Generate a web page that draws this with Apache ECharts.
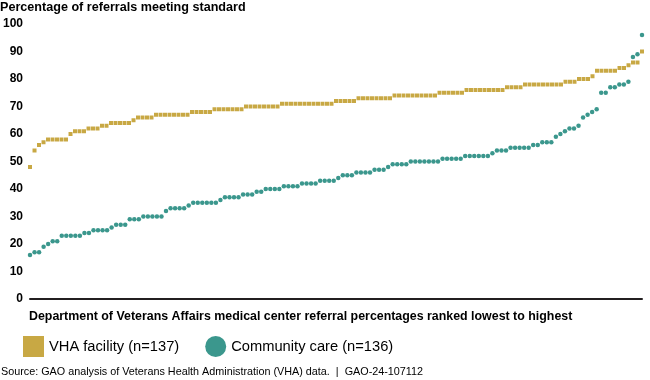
<!DOCTYPE html>
<html>
<head>
<meta charset="utf-8">
<script src="https://cdn.jsdelivr.net/npm/echarts@6/dist/echarts.min.js"></script>
<style>
  html, body { margin: 0; padding: 0; background: #fff; }
  #chart { width: 650px; height: 380px; }
</style>
</head>
<body>
<div id="chart"></div>
<script>
// VHA facility (n=137), ranked lowest to highest
var vhaFacility = [
  48, 54, 56, 57, 58, 58, 58, 58, 58, 60,
  61, 61, 61, 62, 62, 62, 63, 63, 64, 64,
  64, 64, 64, 65, 66, 66, 66, 66, 67, 67,
  67, 67, 67, 67, 67, 67, 68, 68, 68, 68,
  68, 69, 69, 69, 69, 69, 69, 69, 70, 70,
  70, 70, 70, 70, 70, 70, 71, 71, 71, 71,
  71, 71, 71, 71, 71, 71, 71, 71, 72, 72,
  72, 72, 72, 73, 73, 73, 73, 73, 73, 73,
  73, 74, 74, 74, 74, 74, 74, 74, 74, 74,
  74, 75, 75, 75, 75, 75, 75, 76, 76, 76,
  76, 76, 76, 76, 76, 76, 77, 77, 77, 77,
  78, 78, 78, 78, 78, 78, 78, 78, 78, 79,
  79, 79, 80, 80, 80, 81, 83, 83, 83, 83,
  83, 84, 84, 85, 86, 86, 90
];
// Community care (n=136), ranked lowest to highest
var communityCare = [
  16, 17, 17, 19, 20, 21, 21, 23, 23, 23,
  23, 23, 24, 24, 25, 25, 25, 25, 26, 27,
  27, 27, 29, 29, 29, 30, 30, 30, 30, 30,
  32, 33, 33, 33, 33, 34, 35, 35, 35, 35,
  35, 35, 36, 37, 37, 37, 37, 38, 38, 38,
  39, 39, 40, 40, 40, 40, 41, 41, 41, 41,
  42, 42, 42, 42, 43, 43, 43, 43, 44, 45,
  45, 45, 46, 46, 46, 46, 47, 47, 47, 48,
  49, 49, 49, 49, 50, 50, 50, 50, 50, 50,
  50, 51, 51, 51, 51, 51, 52, 52, 52, 52,
  52, 52, 53, 54, 54, 54, 55, 55, 55, 55,
  55, 56, 56, 57, 57, 57, 59, 60, 61, 62,
  62, 63, 66, 67, 68, 69, 75, 75, 77, 77,
  78, 78, 79, 88, 89, 96
];
var yTicks = [0, 10, 20, 30, 40, 50, 60, 70, 80, 90, 100];
var seriesNames = ['VHA facility (n=137)', 'Community care (n=136)'];
var yTitle = 'Percentage of referrals meeting standard';
var xTitle = 'Department of Veterans Affairs medical center referral percentages ranked lowest to highest';
var sourceText = 'Source: GAO analysis of Veterans Health Administration (VHA) data.  |  GAO-24-107112';

var GOLD = '#C8A844';
var TEAL = '#3B978D';
var FONT = '"Liberation Sans", Arial, sans-serif';

var chart = echarts.init(document.getElementById('chart'), null, { renderer: 'canvas' });
chart.setOption({
  animation: false,
  backgroundColor: '#fff',
  textStyle: { fontFamily: FONT },
  title: [
    { text: yTitle, left: 0, top: 1, padding: 0,
      textStyle: { fontSize: 12.6, fontWeight: 'bold', color: '#000', fontFamily: FONT } },
    { text: xTitle, left: 29, top: 311, padding: 0,
      textStyle: { fontSize: 12.4, fontWeight: 'bold', color: '#000', fontFamily: FONT } },
    { text: sourceText, left: 1, top: 367, padding: 0,
      textStyle: { fontSize: 10.8, fontWeight: 'normal', color: '#000', fontFamily: FONT } }
  ],
  legend: {
    left: 23, top: 336, padding: 0,
    itemWidth: 21, itemHeight: 21, itemGap: 26,
    textStyle: { fontSize: 14.7, color: '#000', fontFamily: FONT },
    data: [
      { name: seriesNames[0], icon: 'rect' },
      { name: seriesNames[1], icon: 'circle' }
    ]
  },
  grid: { left: 28, right: 8, top: 24, height: 275 },
  xAxis: [
    { type: 'category', boundaryGap: false,
      data: vhaFacility.map(function (_, i) { return i + 1; }),
      axisLine: { show: true, lineStyle: { color: '#231F20', width: 2 } },
      axisTick: { show: false }, axisLabel: { show: false }, splitLine: { show: false } },
    { type: 'category', boundaryGap: false, show: false,
      data: communityCare.map(function (_, i) { return i + 1; }) }
  ],
  yAxis: {
    type: 'value', min: yTicks[0], max: yTicks[yTicks.length - 1], interval: 10,
    axisLine: { show: false }, axisTick: { show: false }, splitLine: { show: false },
    axisLabel: { margin: 7, fontSize: 12, fontWeight: 'bold', color: '#000', fontFamily: FONT }
  },
  series: [
    { name: seriesNames[0], type: 'scatter', xAxisIndex: 0, symbol: 'rect', symbolSize: 4,
      itemStyle: { color: GOLD, opacity: 1 }, data: vhaFacility, z: 2 },
    { name: seriesNames[1], type: 'scatter', xAxisIndex: 1, symbol: 'circle', symbolSize: 4.5,
      itemStyle: { color: TEAL, opacity: 1 }, data: communityCare, z: 3 }
  ]
});
</script>
</body>
</html>
